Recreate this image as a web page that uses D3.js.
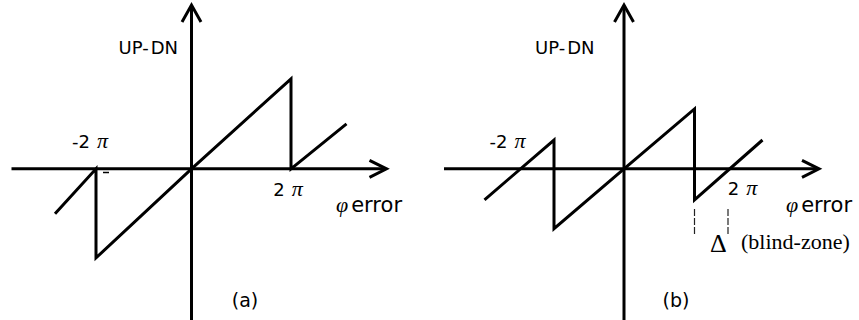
<!DOCTYPE html>
<html>
<head>
<meta charset="utf-8">
<script src="https://cdn.jsdelivr.net/npm/d3@7/dist/d3.min.js"></script>
<style>
  body { margin: 0; background: #fff; }
  svg { display: block; }
</style>
</head>
<body>
<svg id="chart" width="859" height="320"></svg>
<script>
// Phase-detector transfer curves: output (UP-DN) versus phase error, in units of pi.
const panelNames = ["(a)", "(b)"];
const phiA = [-2.73, -1.91, -1.91, 0, 1.99, 1.99, 3.1];
const outA = [-1, 0, -1.98, 0, 2, 0, 1];
const phiB = [-2.79, -1.4, -1.4, 0, 1.41, 1.41, 2.77];
const outB = [-0.69, 0.64, -1.33, 0, 1.33, -0.69, 0.64];
const tickText = ["-2", "2"];
const piSymbol = "\u03C0";
const yTitle = ["UP-", "DN"];
const xTitle = ["\u03C6", "error"];
const blindZone = [1.41, 2.08];
const blindText = ["\u0394", "(blind-zone)"];

const svg = d3.select("#chart");
const sans = "'DejaVu Sans', sans-serif";
const serif = "'Liberation Serif', 'DejaVu Serif', serif";

// shared vertical scale; each panel gets its own horizontal scale
const y = d3.scaleLinear().domain([-3.36, 3.64]).range([320, 5]);
const series = [
  phiA.map((p, i) => ({ p, v: outA[i] })),
  phiB.map((p, i) => ({ p, v: outB[i] }))
];

// per-panel placement of the text pieces (pixels relative to the panel origin)
const layout = [
  { ox: 191.5, yTitleX: -73, neg: -101.5, pos: 96.5, posY: 196, phiX: 144.5, capX: 53.5 },
  { ox: 624,   yTitleX: -89, neg: -116.5, pos: 118.5, posY: 195, phiX: 162, capX: 52 }
];

series.forEach((pts, k) => {
  const L = layout[k];
  const x = d3.scaleLinear().domain([-3.6, 3.9]).range([L.ox - 180, L.ox + 195]);
  const g = svg.append("g");
  const y0 = y(0);

  // axes
  g.append("line").attr("x1", x(-3.6)).attr("x2", x(3.9) - 1).attr("y1", y0).attr("y2", y0)
    .attr("stroke", "#000").attr("stroke-width", 3);
  g.append("line").attr("x1", x(0)).attr("x2", x(0)).attr("y1", y(3.64) + 1).attr("y2", 320)
    .attr("stroke", "#000").attr("stroke-width", 3);

  // open arrowheads
  const tipX = x(3.9), tipY = y(3.64);
  g.append("polyline")
    .attr("points", [[tipX - 17, y0 - 8.5], [tipX, y0], [tipX - 17, y0 + 8.5]].map(d => d.join(",")).join(" "))
    .attr("fill", "none").attr("stroke", "#000").attr("stroke-width", 3);
  g.append("polyline")
    .attr("points", [[x(0) - 9.5, tipY + 17], [x(0), tipY], [x(0) + 9.5, tipY + 17]].map(d => d.join(",")).join(" "))
    .attr("fill", "none").attr("stroke", "#000").attr("stroke-width", 3);

  // sawtooth characteristic
  const line = d3.line().x(d => x(d.p)).y(d => y(d.v));
  g.append("path").datum(pts).attr("d", line)
    .attr("fill", "none").attr("stroke", "#000").attr("stroke-width", 3)
    .attr("stroke-linejoin", "miter");

  // y title
  const yt = g.append("text").attr("x", L.ox + L.yTitleX).attr("y", 54)
    .attr("font-family", sans).attr("font-size", 18).attr("fill", "#000");
  yt.append("tspan").text(yTitle[0]);
  yt.append("tspan").attr("dx", 2).text(yTitle[1]);

  // tick labels -2π and 2π
  [[tickText[0], L.ox + L.neg, 148.3], [tickText[1], L.ox + L.pos, L.posY]].forEach(([t, cx, by]) => {
    const tt = g.append("text").attr("x", cx).attr("y", by).attr("text-anchor", "middle").attr("fill", "#000");
    tt.append("tspan").attr("font-family", sans).attr("font-size", 18).text(t);
    tt.append("tspan").attr("dx", 7).attr("font-family", serif).attr("font-style", "italic")
      .attr("font-size", 22).text(piSymbol);
  });

  // x title
  const xt = g.append("text").attr("x", L.ox + L.phiX).attr("y", 211.5).attr("fill", "#000");
  xt.append("tspan").attr("font-family", serif).attr("font-style", "italic").attr("font-size", 22).text(xTitle[0]);
  xt.append("tspan").attr("dx", 3).attr("font-family", sans).attr("font-size", 21).text(xTitle[1]);

  // panel caption
  g.append("text").attr("x", L.ox + L.capX).attr("y", 307).attr("text-anchor", "middle")
    .attr("font-family", sans).attr("font-size", 19).attr("fill", "#000").text(panelNames[k]);

  if (k === 0) {
    // small stray tick just right of the -2π jump
    g.append("line").attr("x1", x(-1.77)).attr("x2", x(-1.65)).attr("y1", y0 + 3.7).attr("y2", y0 + 3.7)
      .attr("stroke", "#000").attr("stroke-width", 1.5);
  } else {
    // blind-zone markers
    blindZone.forEach(b => {
      g.append("line").attr("x1", x(b)).attr("x2", x(b)).attr("y1", 209).attr("y2", 234)
        .attr("stroke", "#222").attr("stroke-width", 1.2).attr("stroke-dasharray", "7,2");
    });
    g.append("text").attr("x", (x(blindZone[0]) + x(blindZone[1])) / 2 + 7).attr("y", 252)
      .attr("text-anchor", "middle").attr("font-family", serif).attr("font-size", 26).attr("fill", "#000")
      .text(blindText[0]);
    g.append("text").attr("x", 741).attr("y", 249).attr("font-family", serif).attr("font-size", 22)
      .attr("fill", "#000").text(blindText[1]);
  }
});
</script>
</body>
</html>
